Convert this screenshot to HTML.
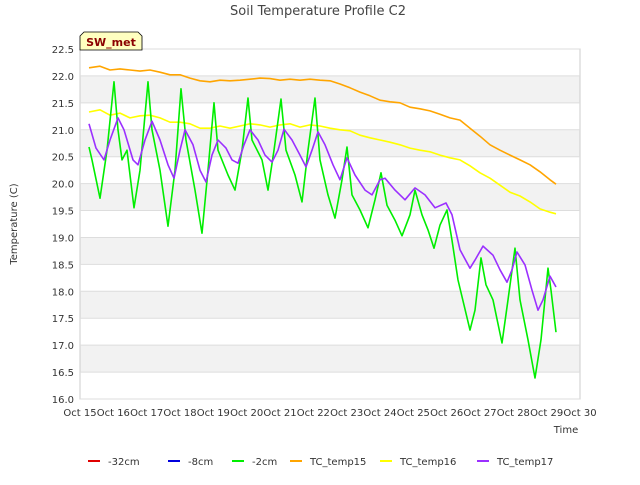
<!DOCTYPE html>
<html><head><meta charset="utf-8"><style>
body{margin:0;background:#fff;font-family:"Liberation Sans","DejaVu Sans",sans-serif}
svg text{font-family:"DejaVu Sans","Liberation Sans",sans-serif}
</style></head><body>
<svg id="chart" width="640" height="480" viewBox="0 0 640 480">
<rect width="640" height="480" fill="#fff"/>
<text x="318" y="15" text-anchor="middle" font-size="13" fill="#444">Soil Temperature Profile C2</text>
<g id="bands"></g>
<rect x="80" y="49" width="500" height="350" fill="none" stroke="#ccc"/>
<g id="yticks"></g><g id="xticks"></g><g id="series"></g>
<text transform="translate(17,224) rotate(-90)" text-anchor="middle" font-size="10" fill="#333">Temperature (C)</text>
<text x="566" y="433" text-anchor="middle" font-size="10" fill="#333">Time</text>
<g>
<path d="M84,32 L138,32 L142,36 L142,50 L80,50 L80,36 Z" fill="#ffffc0" stroke="#000" stroke-width="0.8"/>
<text x="111" y="46" text-anchor="middle" font-size="11" font-weight="bold" fill="#8b0000">SW_met</text>
</g>
<g id="legend"></g>
</svg>
<script>
const xTickLabels=["Oct 15","Oct 16","Oct 17","Oct 18","Oct 19","Oct 20","Oct 21","Oct 22","Oct 23","Oct 24","Oct 25","Oct 26","Oct 27","Oct 28","Oct 29","Oct 30"];
const yTickValues=[16.0,16.5,17.0,17.5,18.0,18.5,19.0,19.5,20.0,20.5,21.0,21.5,22.0,22.5];
const g2Days=[.27,.36,.6,.81,1.02,1.14,1.26,1.41,1.62,1.8,2.04,2.16,2.4,2.64,2.85,3.03,3.18,3.45,3.66,3.84,4.02,4.14,4.44,4.65,4.86,5.04,5.16,5.46,5.64,5.82,6.03,6.18,6.45,6.66,6.84,7.05,7.2,7.44,7.65,7.86,8.01,8.16,8.4,8.64,8.85,9.03,9.21,9.45,9.66,9.9,10.05,10.26,10.44,10.62,10.8,11.01,11.16,11.34,11.7,11.85,12.03,12.18,12.39,12.66,12.84,13.05,13.2,13.44,13.65,13.83,14.04,14.13,14.28];
const g2Vals=[20.68,20.44,19.73,20.62,21.89,21.0,20.44,20.62,19.55,20.25,21.89,21.0,20.25,19.21,20.25,21.76,20.81,19.88,19.08,20.25,21.5,20.62,20.16,19.88,20.62,21.59,20.81,20.44,19.88,20.62,21.57,20.62,20.16,19.66,20.62,21.59,20.44,19.79,19.36,20.07,20.68,19.79,19.51,19.18,19.7,20.2,19.6,19.32,19.03,19.42,19.88,19.42,19.14,18.8,19.23,19.51,18.95,18.21,17.28,17.65,18.62,18.12,17.84,17.04,17.84,18.8,17.84,17.1,16.39,17.1,18.43,18.02,17.24];
const p17Days=[.27,.48,.72,.9,1.14,1.32,1.59,1.74,1.95,2.16,2.4,2.64,2.82,3.0,3.15,3.39,3.6,3.78,3.96,4.14,4.38,4.56,4.74,4.92,5.1,5.34,5.55,5.76,5.94,6.12,6.36,6.6,6.78,6.96,7.14,7.35,7.59,7.8,8.01,8.25,8.55,8.76,9.0,9.15,9.45,9.75,10.05,10.35,10.65,10.98,11.16,11.4,11.7,11.85,12.09,12.39,12.6,12.81,12.96,13.11,13.35,13.56,13.74,13.89,14.1,14.28];
const p17Vals=[21.11,20.66,20.44,20.81,21.22,21.0,20.44,20.35,20.81,21.16,20.81,20.35,20.1,20.62,21.0,20.72,20.25,20.03,20.53,20.81,20.66,20.44,20.38,20.72,21.0,20.81,20.53,20.4,20.62,21.01,20.81,20.53,20.31,20.62,20.96,20.72,20.35,20.07,20.48,20.16,19.88,19.79,20.07,20.1,19.88,19.7,19.92,19.79,19.55,19.64,19.42,18.77,18.43,18.58,18.84,18.67,18.4,18.17,18.4,18.73,18.49,18.02,17.65,17.84,18.28,18.08];
const slowDays=[.27,.6,.9,1.2,1.5,1.8,2.1,2.4,2.7,3.0,3.3,3.6,3.9,4.2,4.5,4.8,5.1,5.4,5.7,6.0,6.3,6.6,6.9,7.2,7.5,7.8,8.1,8.4,8.7,9.0,9.3,9.6,9.9,10.2,10.5,10.8,11.1,11.4,11.7,12.0,12.3,12.6,12.9,13.2,13.5,13.8,14.1,14.28];
const t15Vals=[22.15,22.18,22.11,22.13,22.11,22.09,22.11,22.07,22.02,22.02,21.96,21.91,21.89,21.92,21.91,21.92,21.94,21.96,21.95,21.92,21.94,21.92,21.94,21.92,21.91,21.85,21.78,21.7,21.63,21.55,21.52,21.5,21.42,21.39,21.35,21.29,21.22,21.18,21.03,20.88,20.72,20.62,20.53,20.44,20.35,20.22,20.07,19.99];
const t16Vals=[21.33,21.37,21.27,21.31,21.22,21.26,21.27,21.22,21.14,21.14,21.11,21.03,21.03,21.07,21.03,21.07,21.11,21.09,21.05,21.09,21.11,21.05,21.09,21.07,21.03,21.0,20.98,20.9,20.85,20.81,20.77,20.72,20.66,20.62,20.59,20.53,20.48,20.44,20.33,20.2,20.1,19.97,19.84,19.77,19.66,19.53,19.47,19.44];
const legendNames=["-32cm","-8cm","-2cm","TC_temp15","TC_temp16","TC_temp17"];
const legendColors=["#e00000","#0000dd","#00ee00","#ffa500","#ffff00","#9b30ff"];

const NS="http://www.w3.org/2000/svg";
const X0=80,X1=580,Y0=399,Y1=49,YMIN=16,YMAX=22.5,DMAX=15;
const xs=d=>X0+(X1-X0)*d/DMAX;
const ys=v=>Y0-(Y0-Y1)*(v-YMIN)/(YMAX-YMIN);
function mk(tag,attrs,parent){const e=document.createElementNS(NS,tag);for(const k in attrs)e.setAttribute(k,attrs[k]);parent.appendChild(e);return e;}
const bands=document.getElementById('bands');
for(let i=0;i<yTickValues.length-1;i++){
  const lo=yTickValues[i],hi=yTickValues[i+1];
  if(i%2===1){const r=mk('rect',{x:X0,y:ys(hi),width:X1-X0,height:ys(lo)-ys(hi),fill:'#f2f2f2'},bands);
  
  }
}
const yt=document.getElementById('yticks');
yTickValues.forEach(v=>{
  const l=mk('line',{x1:X0,x2:X1,y1:ys(v),y2:ys(v),stroke:'#dddddd'},yt);
  
  
  const t=mk('text',{x:74,y:ys(v)+4,'text-anchor':'end','font-size':'10',fill:'#333'},yt);
  
  
  t.textContent=v.toFixed(1);
});
const xt=document.getElementById('xticks');
xTickLabels.forEach((s,i)=>{
  const t=mk('text',{x:xs(i),y:416,'text-anchor':'middle','font-size':'10',fill:'#333'},xt);
  
  
  t.textContent=s;
});
const sg=document.getElementById('series');
function line(days,vals,color,name){
  const pts=days.map((d,i)=>xs(d).toFixed(1)+','+ys(vals[i]).toFixed(1)).join(' ');
  const p=mk('polyline',{points:pts,fill:'none',stroke:color,'stroke-width':'1.6','stroke-linejoin':'round'},sg);
  
  
}
line(slowDays,t15Vals,'#ffa500','tc-temp15-line');
line(slowDays,t16Vals,'#ffff00','tc-temp16-line');
line(g2Days,g2Vals,'#00ee00','minus-2cm-line');
line(p17Days,p17Vals,'#9b30ff','tc-temp17-line');
const lg=document.getElementById('legend');
const lx=[88,168,232,290,380,477];
legendNames.forEach((n,i)=>{
  const g=mk('g',{},lg);
  
  
  mk('line',{x1:lx[i],x2:lx[i]+12,y1:461,y2:461,stroke:legendColors[i],'stroke-width':'2'},g);
  const t=mk('text',{x:lx[i]+20,y:465,'font-size':'10',fill:'#333'},g);
  t.textContent=n;
});
</script>
</body></html>
